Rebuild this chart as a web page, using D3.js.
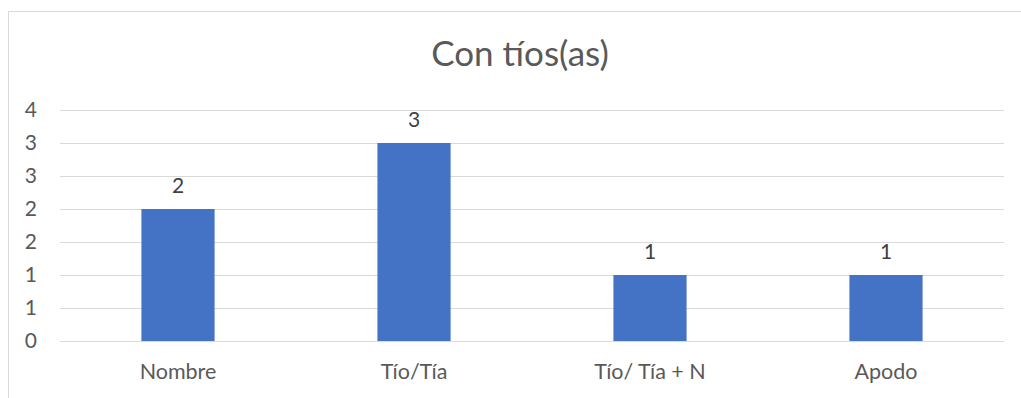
<!DOCTYPE html>
<html><head><meta charset="utf-8">
<script src="https://d3js.org/d3.v7.min.js"></script>
<style>body{margin:0;background:#fff}svg{display:block}</style>
</head><body><div id="c"></div>
<script>
const categories = ["Nombre", "Tío/Tía", "Tío/ Tía + N", "Apodo"];
const values = [2, 3, 1, 1];
const yTicks = [0, 0.5, 1, 1.5, 2, 2.5, 3, 3.5];
const yTickLabels = ["0", "1", "1", "2", "2", "3", "3", "4"];
const title = "Con tíos(as)";

const W = 1021, H = 398;
const font = "Lato, 'Open Sans', sans-serif";
const svg = d3.select("#c").append("svg").attr("width", W).attr("height", H);
svg.append("rect").attr("x", 8.5).attr("y", 11.5).attr("width", W + 10).attr("height", H + 10)
  .attr("fill", "#fff").attr("stroke", "#d9d9d9").attr("stroke-width", 1);

const x = d3.scaleBand().domain(categories).range([60, 1004]).paddingInner(0.69).paddingOuter(0.345);
const y = d3.scaleLinear().domain([0, 3.5]).range([341, 110]);

const grid = svg.append("g");
grid.selectAll("line").data(yTicks).join("line")
  .attr("x1", 60).attr("x2", 1004)
  .attr("y1", d => Math.round(y(d)) + 0.5).attr("y2", d => Math.round(y(d)) + 0.5)
  .attr("stroke", "#d9d9d9").attr("stroke-width", 1);

svg.append("g").selectAll("text").data(yTicks).join("text")
  .attr("x", 37).attr("y", d => y(d)).attr("dy", "0.35em")
  .attr("text-anchor", "end").attr("font-family", font).attr("font-size", 21).attr("fill", "#595959")
  .text((d, i) => yTickLabels[i]);

svg.append("g").selectAll("text").data(values).join("text")
  .attr("x", (d, i) => x(categories[i]) + x.bandwidth() / 2).attr("y", d => y(d) - 16.5)
  .attr("text-anchor", "middle").attr("font-family", font).attr("font-size", 21).attr("fill", "#404040")
  .text(d => d);

svg.append("g").selectAll("rect").data(values).join("rect")
  .attr("x", (d, i) => x(categories[i])).attr("width", x.bandwidth())
  .attr("y", d => y(d)).attr("height", d => y(0) - y(d))
  .attr("fill", "#4472c4");

svg.append("g").selectAll("text").data(categories).join("text")
  .attr("x", d => x(d) + x.bandwidth() / 2).attr("y", 379)
  .attr("text-anchor", "middle").attr("font-family", font).attr("font-size", 21.5).attr("fill", "#595959")
  .text(d => d);

svg.append("text").attr("x", 520).attr("y", 66).attr("text-anchor", "middle")
  .attr("font-family", font).attr("font-size", 35).attr("fill", "#595959").text(title);
</script></body></html>
